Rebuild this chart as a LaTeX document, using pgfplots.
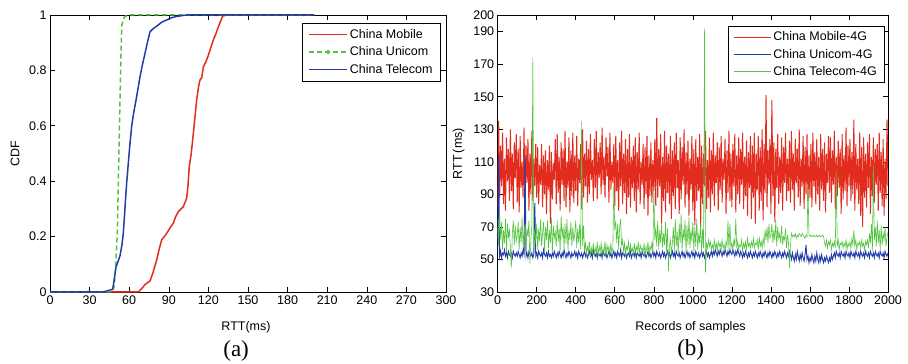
\documentclass[border=0pt]{standalone}
\usepackage{fontspec}
\setmainfont{Liberation Sans}
\newfontfamily\timesfont{Liberation Serif}
\usepackage{pgfplots}
\usepackage{pgfplotstable}
\pgfplotsset{compat=1.18}
\definecolor{mred}{RGB}{226,44,30}
\definecolor{mblue}{RGB}{34,60,168}
\definecolor{mgreen}{RGB}{84,196,64}
\newcommand{\fs}{\fontsize{12.5}{14}\selectfont}

\pgfplotstableread[row sep=\\]{y\\
82\\135\\88\\120\\95\\128\\84\\112\\80\\125\\98\\118\\86\\130\\92\\115\\81\\122\\100\\127\\
85\\118\\79\\126\\94\\110\\88\\131\\83\\120\\97\\124\\80\\115\\90\\129\\86\\112\\95\\121\\
88\\119\\84\\108\\96\\121\\82\\114\\90\\117\\78\\111\\93\\120\\72\\116\\87\\109\\99\\124\\
84\\127\\91\\113\\80\\122\\96\\118\\86\\129\\82\\110\\94\\125\\79\\117\\89\\128\\85\\114\\
92\\126\\83\\112\\97\\121\\81\\130\\88\\115\\95\\123\\85\\118\\90\\127\\99\\111\\86\\124\\
94\\129\\87\\116\\100\\122\\90\\131\\96\\113\\88\\125\\101\\119\\85\\128\\93\\110\\97\\121\\
83\\126\\92\\111\\80\\122\\95\\129\\84\\115\\91\\124\\78\\118\\88\\127\\82\\113\\94\\120\\
86\\125\\79\\116\\93\\128\\84\\110\\96\\121\\81\\119\\90\\126\\77\\114\\89\\122\\85\\111\\
92\\124\\83\\137\\88\\118\\95\\127\\72\\113\\86\\129\\79\\120\\91\\115\\84\\126\\75\\117\\
89\\122\\81\\128\\94\\111\\78\\125\\87\\119\\96\\130\\82\\116\\90\\123\\77\\112\\93\\126\\
80\\118\\71\\124\\86\\113\\92\\127\\70\\120\\84\\115\\95\\129\\81\\111\\88\\125\\79\\117\\
90\\128\\83\\114\\97\\122\\80\\119\\93\\126\\85\\112\\99\\124\\78\\117\\91\\129\\86\\115\\
82\\121\\95\\127\\79\\114\\90\\125\\84\\118\\96\\128\\81\\113\\89\\123\\77\\116\\94\\126\\
75\\120\\88\\128\\72\\115\\93\\126\\80\\119\\86\\130\\74\\121\\91\\151\\82\\117\\96\\124\\
78\\148\\89\\122\\73\\118\\94\\127\\84\\113\\91\\125\\80\\119\\97\\128\\86\\112\\92\\123\\
85\\129\\93\\115\\80\\124\\97\\118\\88\\130\\83\\112\\95\\126\\81\\119\\90\\127\\86\\114\\
88\\121\\82\\128\\95\\116\\84\\124\\90\\113\\80\\127\\93\\118\\86\\122\\79\\115\\97\\126\\
91\\125\\85\\117\\96\\129\\81\\113\\89\\123\\94\\118\\78\\127\\87\\114\\92\\131\\83\\120\\
95\\124\\86\\116\\90\\136\\80\\121\\93\\112\\84\\128\\77\\119\\70\\125\\88\\115\\82\\122\\
94\\127\\78\\113\\89\\125\\85\\118\\96\\121\\80\\128\\91\\116\\83\\124\\77\\112\\87\\136\\
95\\}\redtab

\pgfplotstableread[row sep=\\]{y\\
53\\114\\52\\55\\51\\54\\53\\56\\52\\54\\51\\55\\53\\52\\54\\51\\55\\53\\52\\54\\
52\\55\\53\\51\\54\\52\\56\\53\\114\\52\\54\\51\\55\\53\\52\\54\\51\\53\\85\\52\\
54\\51\\55\\53\\52\\54\\51\\56\\53\\52\\54\\51\\55\\52\\53\\51\\54\\52\\55\\53\\
51\\54\\52\\55\\53\\51\\54\\52\\56\\53\\51\\54\\52\\55\\53\\51\\54\\52\\53\\55\\
52\\54\\51\\55\\53\\52\\54\\51\\53\\55\\52\\54\\51\\53\\55\\52\\54\\51\\56\\53\\
52\\54\\51\\55\\53\\52\\54\\51\\55\\53\\52\\54\\51\\53\\55\\52\\54\\51\\53\\55\\
52\\54\\51\\55\\53\\52\\56\\51\\54\\53\\52\\55\\51\\53\\54\\52\\55\\51\\53\\54\\
52\\55\\51\\54\\53\\52\\54\\51\\55\\53\\52\\54\\51\\53\\55\\52\\54\\51\\53\\55\\
52\\54\\51\\55\\53\\52\\54\\51\\53\\55\\52\\54\\51\\53\\55\\52\\54\\51\\53\\55\\
52\\54\\51\\55\\53\\52\\54\\51\\53\\55\\52\\54\\51\\53\\55\\52\\54\\51\\53\\55\\
52\\54\\51\\55\\53\\52\\54\\51\\53\\55\\52\\54\\51\\53\\55\\52\\54\\51\\53\\55\\
52\\55\\53\\56\\54\\52\\55\\53\\56\\54\\52\\55\\53\\56\\54\\52\\55\\53\\56\\54\\
53\\56\\54\\52\\55\\53\\56\\54\\52\\55\\53\\51\\54\\52\\55\\53\\51\\54\\52\\55\\
53\\51\\54\\52\\55\\53\\51\\54\\52\\55\\53\\51\\54\\52\\55\\53\\51\\54\\52\\55\\
53\\51\\54\\52\\55\\53\\51\\54\\52\\55\\53\\51\\54\\52\\55\\53\\51\\54\\52\\55\\
53\\50\\54\\51\\49\\53\\50\\55\\52\\49\\53\\50\\54\\51\\49\\53\\59\\50\\52\\48\\
51\\49\\53\\50\\48\\52\\49\\54\\50\\48\\52\\49\\53\\50\\48\\51\\49\\52\\50\\48\\
51\\49\\53\\50\\52\\54\\51\\55\\53\\52\\54\\51\\55\\53\\52\\54\\51\\55\\53\\52\\
54\\51\\55\\53\\52\\54\\51\\55\\53\\52\\54\\51\\55\\53\\52\\54\\51\\55\\53\\52\\
54\\51\\55\\53\\52\\54\\51\\55\\53\\52\\54\\51\\55\\53\\52\\54\\51\\55\\53\\52\\
54\\}\bluetab

\pgfplotstableread[row sep=\\]{y\\
70\\58\\78\\62\\73\\56\\68\\60\\75\\55\\72\\63\\69\\57\\45\\66\\74\\59\\71\\61\\
65\\73\\56\\70\\60\\76\\58\\67\\72\\55\\69\\64\\74\\47\\62\\71\\174\\57\\68\\60\\
72\\56\\69\\61\\75\\58\\66\\73\\55\\70\\62\\74\\57\\68\\60\\76\\54\\71\\63\\67\\
58\\74\\61\\69\\55\\77\\63\\70\\57\\72\\60\\75\\56\\68\\62\\73\\58\\70\\61\\66\\
74\\57\\69\\60\\72\\56\\135\\58\\71\\55\\60\\53\\58\\55\\61\\52\\57\\54\\60\\53\\
57\\54\\61\\52\\58\\55\\60\\53\\57\\54\\61\\52\\59\\55\\58\\53\\60\\54\\57\\95\\
68\\74\\60\\72\\56\\70\\75\\58\\62\\55\\60\\53\\58\\56\\61\\54\\59\\55\\57\\53\\
60\\54\\58\\55\\61\\53\\59\\56\\57\\54\\60\\52\\58\\55\\61\\53\\58\\56\\60\\54\\
95\\62\\70\\58\\74\\56\\68\\60\\72\\57\\66\\59\\73\\55\\69\\43\\58\\62\\54\\60\\
70\\55\\75\\58\\67\\53\\72\\60\\78\\56\\69\\62\\74\\54\\71\\59\\76\\57\\68\\61\\
73\\55\\70\\58\\75\\56\\66\\60\\72\\54\\69\\57\\192\\42\\60\\57\\62\\58\\61\\56\\
59\\56\\62\\57\\60\\55\\61\\58\\60\\56\\62\\57\\59\\55\\61\\58\\74\\56\\72\\57\\
60\\56\\62\\58\\75\\57\\61\\56\\59\\58\\62\\55\\60\\57\\61\\56\\63\\58\\60\\57\\
61\\58\\63\\57\\60\\59\\62\\56\\64\\58\\61\\57\\63\\59\\68\\62\\70\\60\\72\\63\\
65\\72\\60\\68\\62\\74\\58\\70\\63\\66\\60\\71\\59\\64\\62\\69\\57\\65\\60\\45\\
58\\66\\64\\65\\64\\66\\63\\65\\64\\66\\65\\64\\66\\65\\64\\63\\65\\64\\95\\65\\
64\\65\\64\\64\\65\\64\\64\\65\\64\\64\\65\\64\\64\\65\\64\\60\\58\\62\\57\\61\\
59\\62\\56\\60\\58\\61\\57\\104\\58\\62\\56\\60\\59\\61\\57\\60\\58\\62\\56\\60\\
58\\61\\57\\63\\59\\68\\58\\62\\56\\60\\59\\61\\57\\62\\58\\60\\56\\61\\59\\62\\
57\\66\\60\\72\\55\\108\\62\\70\\58\\74\\60\\68\\56\\71\\59\\66\\62\\70\\58\\64\\
67\\}\greentab

\begin{document}
\begin{tikzpicture}
\useasboundingbox (0,0) rectangle (908pt,364pt);
\pgfplotsset{
  every axis/.append style={
    scale only axis,
    anchor=south west,
    axis line style={line width=0.8pt},
    tick align=inside,
    major tick length=5pt,
    tick style={line width=0.6pt, black},
    tick label style={font=\fs},
    /pgf/number format/assume math mode=true,
    /pgf/number format/1000 sep={},
    scaled ticks=false,
    legend cell align=left,
  },
}
% ---------------- (a) ----------------
\begin{axis}[
  at={(50pt,72pt)}, width=396pt, height=277pt,
  xmin=0, xmax=300, ymin=0, ymax=1,
  xtick={0,30,...,300}, ytick={0,0.2,0.4,0.6,0.8,1},
  xlabel={RTT(ms)}, ylabel={CDF},
  every axis x label/.style={at={(axis description cs:0.495,-0.126)}, anchor=center, font=\fs},
  every axis y label/.style={at={(axis description cs:-0.088,0.5)}, rotate=90, anchor=center, font=\fs},
  legend style={at={(0.987,0.971)}, anchor=north east, font=\fs, draw=black, line width=0.6pt,
    row sep=3pt, inner xsep=6pt, inner ysep=4pt},
  legend image code/.code={\draw[mark repeat=2,mark phase=2,#1] plot coordinates {(0pt,0pt) (19pt,0pt) (38pt,0pt)};},
  clip=false,
]
\addplot[mred, line width=1.5pt] coordinates {(0,0)(67,0)(70,0.015)(72,0.027)(75.8,0.04)(78,0.07)(80.8,0.115)(83,0.16)(84.6,0.188)(88.4,0.212)(91,0.232)(93.4,0.248)(95,0.27)(97.2,0.29)(101,0.308)(103.5,0.338)(104.5,0.38)(105.5,0.452)(107,0.5)(108.6,0.573)(110,0.64)(111.1,0.693)(112.5,0.74)(113.6,0.765)(115,0.775)(116.2,0.813)(118,0.83)(120,0.855)(122,0.885)(123.7,0.909)(125.5,0.93)(127.5,0.957)(129,0.975)(130.8,0.996)(133.8,1)(200,1)};
\addlegendentry{China Mobile}
\addplot[mgreen, line width=1.5pt, dash pattern=on 5pt off 3pt, forget plot] coordinates {(0,0)(47,0)(48.5,0.02)(49.2,0.055)(50,0.12)(51,0.21)(52,0.45)(52.5,0.57)(53.5,0.8)(54.3,0.96)(55.5,0.985)(56.8,0.995)(60,1)(200,1)};
\addlegendimage{mgreen, line width=1.5pt, dash pattern=on 5pt off 3pt, mark=*, mark size=1.3pt, mark options={solid}}
\addlegendentry{China Unicom}
\addplot[mblue, line width=1.5pt] coordinates {(0,0)(40,0)(44,0.005)(47.5,0.01)(48.5,0.04)(50,0.09)(51.5,0.11)(53,0.13)(54.5,0.17)(55.5,0.21)(56.5,0.28)(57.3,0.34)(58.1,0.394)(60.1,0.51)(61.9,0.6)(63.5,0.65)(65.2,0.693)(66.5,0.73)(68.2,0.777)(70,0.82)(72,0.862)(74,0.905)(75.8,0.94)(78,0.95)(82,0.964)(85,0.975)(88.4,0.982)(92,0.99)(96,0.995)(103.5,1)(200,1)};
\addlegendentry{China Telecom}
\node[font=\timesfont\fontsize{23}{26}\selectfont] at (axis description cs:0.47,-0.212) {(a)};
\end{axis}
% ---------------- (b) ----------------
\begin{axis}[
  at={(497.7pt,72pt)}, width=390.3pt, height=276.6pt,
  xmin=0, xmax=2000, ymin=30, ymax=200,
  xtick={0,200,...,2000}, ytick={30,50,70,90,110,130,150,170,190,200},
  xlabel={Records of samples}, ylabel={RTT\,(ms)},
  every axis x label/.style={at={(axis description cs:0.494,-0.126)}, anchor=center, font=\fs},
  every axis y label/.style={at={(axis description cs:-0.1,0.5)}, rotate=90, anchor=center, font=\fs},
  legend style={at={(0.99,0.963)}, anchor=north east, font=\fs, draw=black, line width=0.6pt,
    row sep=2.5pt, inner xsep=5pt, inner ysep=4pt, fill=white},
  legend image code/.code={\draw[#1, line width=1pt] (0pt,0pt) -- (37pt,0pt);},
  clip=true,
]
\addplot[mred, line width=1pt] table[x expr=\coordindex*5, y=y] {\redtab};
\addlegendentry{China Mobile-4G}
\addplot[mblue, line width=0.9pt] table[x expr=\coordindex*5, y=y] {\bluetab};
\addlegendentry{China Unicom-4G}
\addplot[mgreen, line width=0.6pt] table[x expr=\coordindex*5, y=y] {\greentab};
\addlegendentry{China Telecom-4G}
\end{axis}
\node[font=\timesfont\fontsize{23}{26}\selectfont] at (690.7pt,14pt) {(b)};
\end{tikzpicture}
\end{document}
